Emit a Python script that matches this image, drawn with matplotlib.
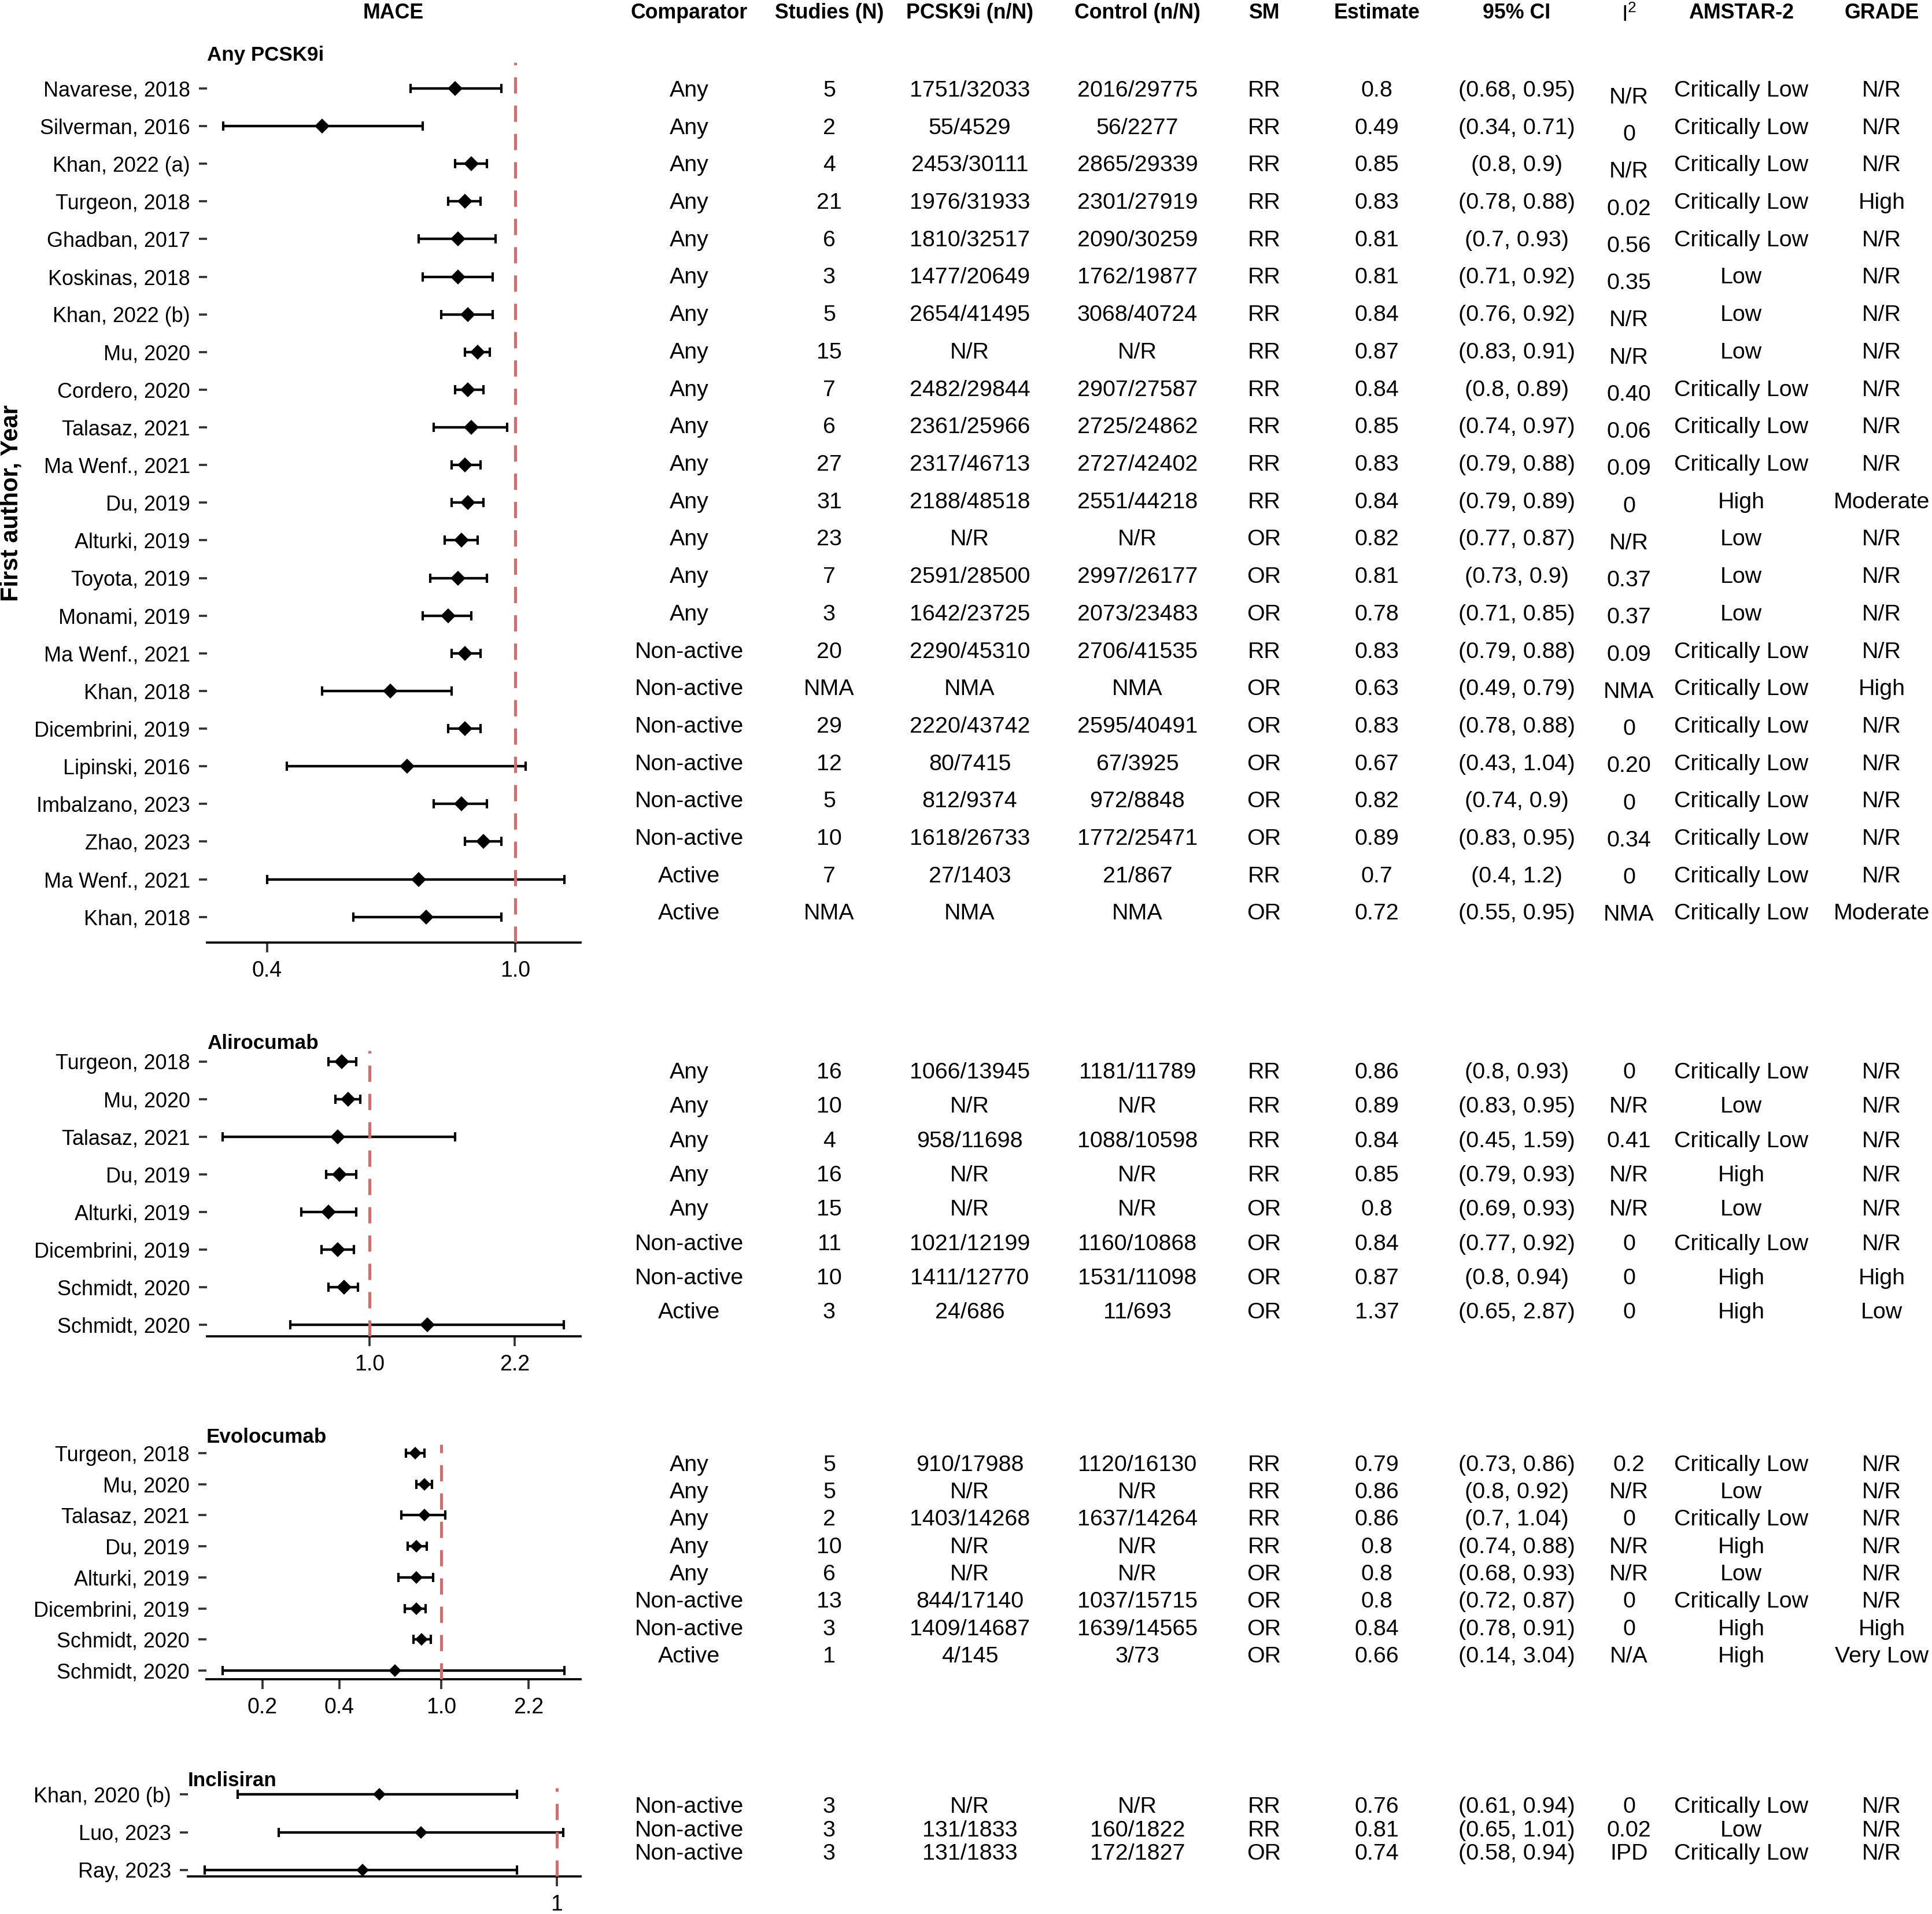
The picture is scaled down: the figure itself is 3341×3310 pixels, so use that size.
import numpy as np
import matplotlib.pyplot as plt
from matplotlib.ticker import NullLocator

plt.rcParams['font.family'] = ['Liberation Sans', 'DejaVu Sans']
plt.rcParams['mathtext.fontset'] = 'custom'
plt.rcParams['mathtext.rm'] = 'Liberation Sans'

W, H, DPI = 3341, 3310, 300

# ---- Any PCSK9i ----
any_labels = ['Navarese, 2018', 'Silverman, 2016', 'Khan, 2022 (a)', 'Turgeon, 2018', 'Ghadban, 2017',
              'Koskinas, 2018', 'Khan, 2022 (b)', 'Mu, 2020', 'Cordero, 2020', 'Talasaz, 2021',
              'Ma Wenf., 2021', 'Du, 2019', 'Alturki, 2019', 'Toyota, 2019', 'Monami, 2019',
              'Ma Wenf., 2021', 'Khan, 2018', 'Dicembrini, 2019', 'Lipinski, 2016', 'Imbalzano, 2023',
              'Zhao, 2023', 'Ma Wenf., 2021', 'Khan, 2018']
any_comp = ['Any'] * 15 + ['Non-active'] * 6 + ['Active'] * 2
any_studies = ['5', '2', '4', '21', '6', '3', '5', '15', '7', '6', '27', '31', '23', '7', '3',
               '20', 'NMA', '29', '12', '5', '10', '7', 'NMA']
any_pcsk9i = ['1751/32033', '55/4529', '2453/30111', '1976/31933', '1810/32517', '1477/20649',
              '2654/41495', 'N/R', '2482/29844', '2361/25966', '2317/46713', '2188/48518', 'N/R',
              '2591/28500', '1642/23725', '2290/45310', 'NMA', '2220/43742', '80/7415', '812/9374',
              '1618/26733', '27/1403', 'NMA']
any_control = ['2016/29775', '56/2277', '2865/29339', '2301/27919', '2090/30259', '1762/19877',
               '3068/40724', 'N/R', '2907/27587', '2725/24862', '2727/42402', '2551/44218', 'N/R',
               '2997/26177', '2073/23483', '2706/41535', 'NMA', '2595/40491', '67/3925', '972/8848',
               '1772/25471', '21/867', 'NMA']
any_sm = ['RR'] * 12 + ['OR'] * 3 + ['RR'] + ['OR'] * 5 + ['RR', 'OR']
any_est = [0.8, 0.49, 0.85, 0.83, 0.81, 0.81, 0.84, 0.87, 0.84, 0.85, 0.83, 0.84, 0.82, 0.81, 0.78,
           0.83, 0.63, 0.83, 0.67, 0.82, 0.89, 0.7, 0.72]
any_lo = [0.68, 0.34, 0.8, 0.78, 0.7, 0.71, 0.76, 0.83, 0.8, 0.74, 0.79, 0.79, 0.77, 0.73, 0.71,
          0.79, 0.49, 0.78, 0.43, 0.74, 0.83, 0.4, 0.55]
any_hi = [0.95, 0.71, 0.9, 0.88, 0.93, 0.92, 0.92, 0.91, 0.89, 0.97, 0.88, 0.89, 0.87, 0.9, 0.85,
          0.88, 0.79, 0.88, 1.04, 0.9, 0.95, 1.2, 0.95]
any_i2 = ['N/R', '0', 'N/R', '0.02', '0.56', '0.35', 'N/R', 'N/R', '0.40', '0.06', '0.09', '0', 'N/R',
          '0.37', '0.37', '0.09', 'NMA', '0', '0.20', '0', '0.34', '0', 'NMA']
any_amstar = ['Critically Low'] * 5 + ['Low'] * 3 + ['Critically Low'] * 3 + ['High'] + ['Low'] * 3 + \
             ['Critically Low'] * 8
any_grade = ['N/R', 'N/R', 'N/R', 'High', 'N/R', 'N/R', 'N/R', 'N/R', 'N/R', 'N/R', 'N/R', 'Moderate',
             'N/R', 'N/R', 'N/R', 'N/R', 'High', 'N/R', 'N/R', 'N/R', 'N/R', 'N/R', 'Moderate']

# ---- Alirocumab ----
ali_labels = ['Turgeon, 2018', 'Mu, 2020', 'Talasaz, 2021', 'Du, 2019', 'Alturki, 2019',
              'Dicembrini, 2019', 'Schmidt, 2020', 'Schmidt, 2020']
ali_comp = ['Any'] * 5 + ['Non-active'] * 2 + ['Active']
ali_studies = ['16', '10', '4', '16', '15', '11', '10', '3']
ali_pcsk9i = ['1066/13945', 'N/R', '958/11698', 'N/R', 'N/R', '1021/12199', '1411/12770', '24/686']
ali_control = ['1181/11789', 'N/R', '1088/10598', 'N/R', 'N/R', '1160/10868', '1531/11098', '11/693']
ali_sm = ['RR'] * 4 + ['OR'] * 4
ali_est = [0.86, 0.89, 0.84, 0.85, 0.8, 0.84, 0.87, 1.37]
ali_lo = [0.8, 0.83, 0.45, 0.79, 0.69, 0.77, 0.8, 0.65]
ali_hi = [0.93, 0.95, 1.59, 0.93, 0.93, 0.92, 0.94, 2.87]
ali_i2 = ['0', 'N/R', '0.41', 'N/R', 'N/R', '0', '0', '0']
ali_amstar = ['Critically Low', 'Low', 'Critically Low', 'High', 'Low', 'Critically Low', 'High', 'High']
ali_grade = ['N/R'] * 6 + ['High', 'Low']

# ---- Evolocumab ----
evo_labels = ['Turgeon, 2018', 'Mu, 2020', 'Talasaz, 2021', 'Du, 2019', 'Alturki, 2019',
              'Dicembrini, 2019', 'Schmidt, 2020', 'Schmidt, 2020']
evo_comp = ['Any'] * 5 + ['Non-active'] * 2 + ['Active']
evo_studies = ['5', '5', '2', '10', '6', '13', '3', '1']
evo_pcsk9i = ['910/17988', 'N/R', '1403/14268', 'N/R', 'N/R', '844/17140', '1409/14687', '4/145']
evo_control = ['1120/16130', 'N/R', '1637/14264', 'N/R', 'N/R', '1037/15715', '1639/14565', '3/73']
evo_sm = ['RR'] * 4 + ['OR'] * 4
evo_est = [0.79, 0.86, 0.86, 0.8, 0.8, 0.8, 0.84, 0.66]
evo_lo = [0.73, 0.8, 0.7, 0.74, 0.68, 0.72, 0.78, 0.14]
evo_hi = [0.86, 0.92, 1.04, 0.88, 0.93, 0.87, 0.91, 3.04]
evo_i2 = ['0.2', 'N/R', '0', 'N/R', 'N/R', '0', '0', 'N/A']
evo_amstar = ['Critically Low', 'Low', 'Critically Low', 'High', 'Low', 'Critically Low', 'High', 'High']
evo_grade = ['N/R'] * 6 + ['High', 'Very Low']

# ---- Inclisiran ----
inc_labels = ['Khan, 2020 (b)', 'Luo, 2023', 'Ray, 2023']
inc_comp = ['Non-active'] * 3
inc_studies = ['3', '3', '3']
inc_pcsk9i = ['N/R', '131/1833', '131/1833']
inc_control = ['N/R', '160/1822', '172/1827']
inc_sm = ['RR', 'RR', 'OR']
inc_est = [0.76, 0.81, 0.74]
inc_lo = [0.61, 0.65, 0.58]
inc_hi = [0.94, 1.01, 0.94]
inc_i2 = ['0', '0.02', 'IPD']
inc_amstar = ['Critically Low', 'Low', 'Critically Low']
inc_grade = ['N/R'] * 3

headers = ['Comparator', 'Studies (N)', 'PCSK9i (n/N)', 'Control (n/N)', 'SM', 'Estimate',
           '95% CI', r'$\mathregular{I^2}$', 'AMSTAR-2', 'GRADE']
col_x = [1192, 1434, 1677, 1967, 2186, 2381, 2623, 2817, 3011, 3254]

fig = plt.figure(figsize=(W / DPI, H / DPI), dpi=DPI)


def rect(l, r, t, b):
    return [l / W, 1 - b / H, (r - l) / W, (b - t) / H]


def forest(box, title, labels, est, lo, hi, xlim, ticks, tlabels, pad_top, pad_bot, ms):
    ax = fig.add_axes(rect(*box))
    est, lo, hi = np.array(est), np.array(lo), np.array(hi)
    y = np.arange(len(labels))
    ax.errorbar(est, y, xerr=[est - lo, hi - est], fmt='none', ecolor='black',
                elinewidth=1.05, capsize=1.9, capthick=1.0, zorder=2)
    ax.plot(est, y, 'D', color='black', ms=ms, mew=0, zorder=3)
    ax.axvline(1, color='#D9696B', lw=1.25, dashes=(5.4, 4), zorder=4)
    ax.set_xscale('log')
    ax.set_xlim(*xlim)
    ax.set_ylim(len(labels) - 1 + pad_bot, -pad_top)
    ax.set_yticks(y, labels, fontsize=8.65)
    ax.set_xticks(ticks, tlabels, fontsize=9)
    ax.xaxis.set_minor_locator(NullLocator())
    for s in ['top', 'right', 'left']:
        ax.spines[s].set_visible(False)
    ax.spines['bottom'].set_linewidth(0.9)
    ax.tick_params(axis='x', length=4, width=0.9, color='#333333', pad=3.4)
    ax.tick_params(axis='y', length=3.4, width=0.9, color='#333333', pad=3.6)
    ax.annotate(title, xy=(0, 1), xycoords='axes fraction', xytext=(0, 3.0),
                textcoords='offset points', ha='left', va='center', fontsize=8.4, fontweight='bold')
    return ax


forest((358, 1004, 108, 1630), 'Any PCSK9i', any_labels, any_est, any_lo, any_hi,
       (0.3203, 1.273), [0.4, 1.0], ['0.4', '1.0'], 0.69, 0.68, 4.4)
forest((358, 1004, 1817, 2311), 'Alirocumab', ali_labels, ali_est, ali_lo, ali_hi,
       (0.4136, 3.148), [1.0, 2.2], ['1.0', '2.2'], 0.29, 0.31, 4.4)
forest((357, 1004, 2498, 2904), 'Evolocumab', evo_labels, evo_est, evo_lo, evo_hi,
       (0.1207, 3.514), [0.2, 0.4, 1.0, 2.2], ['0.2', '0.4', '1.0', '2.2'], 0.28, 0.28, 3.9)
forest((325, 1004, 3092, 3245), 'Inclisiran', inc_labels, inc_est, inc_lo, inc_hi,
       (0.5649, 1.0374), [1], ['1'], 0.17, 0.17, 3.9)

# table overlay in pixel coordinates
tab = fig.add_axes([0, 0, 1, 1])
tab.set_xlim(0, W)
tab.set_ylim(H, 0)
tab.axis('off')

tab.text(680, 22, 'MACE', ha='center', va='center', fontsize=8.6, fontweight='bold')
for x, h in zip(col_x, headers):
    if h.startswith('$'):
        tab.text(x, 26, h, ha='center', va='center', fontsize=9)
    else:
        tab.text(x, 22, h, ha='center', va='center', fontsize=8.6, fontweight='bold')

fig.text(20 / W, 1 - 870 / H, 'First author, Year', rotation=90, ha='center', va='center',
         fontsize=10, fontweight='bold')

sections = [
    (157, 64.7, 10, any_comp, any_studies, any_pcsk9i, any_control, any_sm, any_est, any_lo, any_hi,
     any_i2, any_amstar, any_grade),
    (1855, 59.3, 0, ali_comp, ali_studies, ali_pcsk9i, ali_control, ali_sm, ali_est, ali_lo, ali_hi,
     ali_i2, ali_amstar, ali_grade),
    (2533.5, 47.4, 0, evo_comp, evo_studies, evo_pcsk9i, evo_control, evo_sm, evo_est, evo_lo, evo_hi,
     evo_i2, evo_amstar, evo_grade),
    (3125, 40.7, 0, inc_comp, inc_studies, inc_pcsk9i, inc_control, inc_sm, inc_est, inc_lo, inc_hi,
     inc_i2, inc_amstar, inc_grade),
]

for y0, step, i2_shift, comp, stu, pc, ct, sm, est, lo, hi, i2, am, gr in sections:
    n = len(comp)
    for i in range(n):
        y = y0 + i * step
        cells = [comp[i], stu[i], pc[i], ct[i], sm[i], f'{est[i]:g}',
                 f'({lo[i]:g}, {hi[i]:g})', i2[i], am[i], gr[i]]
        for j, (x, c) in enumerate(zip(col_x, cells)):
            dy = i2_shift * (1 - i / (n - 1)) + 2 if (j == 7 and i2_shift) else 0
            tab.text(x, y + dy, c, ha='center', va='center', fontsize=9.45)

fig.savefig('out.png', dpi=DPI)
